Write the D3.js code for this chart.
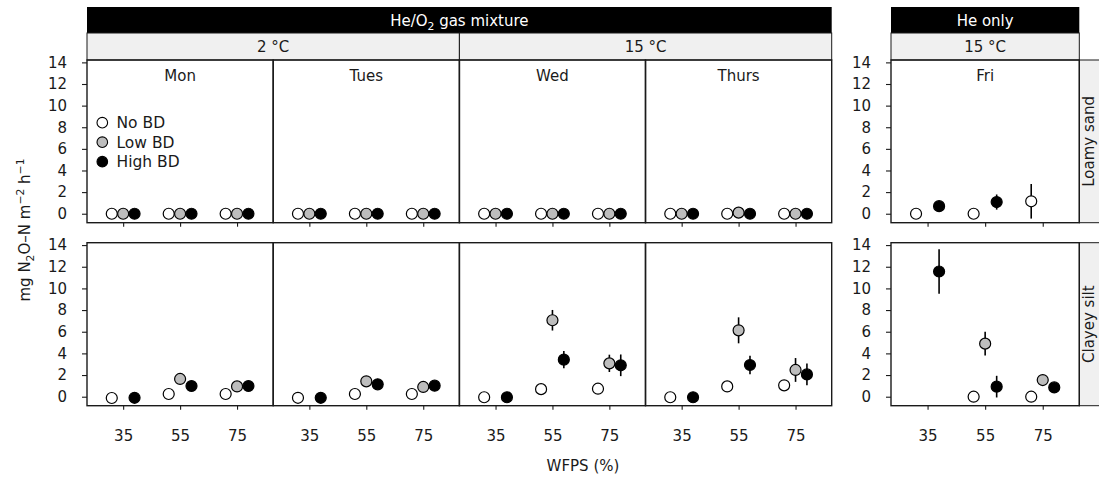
<!DOCTYPE html>
<html>
<head>
<meta charset="utf-8">
<script src="https://cdn.jsdelivr.net/npm/d3@7"></script>
<style>
  html, body { margin: 0; padding: 0; background: #fff; }
  svg { display: block; font-family: "DejaVu Sans", sans-serif; }
</style>
</head>
<body>
<svg id="chart" width="1099" height="479"></svg>
<script>
// ---------------- DATA ----------------
const wfps = [35, 55, 75];
const yTicks = [0, 2, 4, 6, 8, 10, 12, 14];
const treatments = ["No BD", "Low BD", "High BD"];
const days = ["Mon", "Tues", "Wed", "Thurs", "Fri"];
const soils = ["Loamy sand", "Clayey silt"];
const gasGroups = ["He/O2 gas mixture", "He only"];
const tempGroups = ["2 °C", "15 °C", "15 °C"];

// values: [day][wfps index]  (null = no observation)
const loamyNoBD   = [[0, 0, 0], [0, 0, 0], [0, 0, 0], [0, 0, 0], [0, 0, 1.15]];
const loamyLowBD  = [[0, 0, 0], [0, 0, 0], [0, 0, 0], [0, 0.1, 0], [null, null, null]];
const loamyHighBD = [[0, 0, 0], [0, 0, 0], [0, 0, 0], [0, 0, 0], [0.7, 1.08, null]];
const loamyNoBDse   = [[0, 0, 0], [0, 0, 0], [0, 0, 0], [0, 0, 0], [0.05, 0.05, 1.6]];
const loamyLowBDse  = [[0, 0, 0], [0, 0, 0], [0, 0, 0], [0, 0, 0], [null, null, null]];
const loamyHighBDse = [[0, 0, 0], [0, 0, 0], [0, 0, 0], [0, 0, 0], [0.2, 0.7, null]];

const clayNoBD   = [[-0.12, 0.25, 0.25], [-0.1, 0.25, 0.25], [-0.05, 0.7, 0.74], [-0.05, 0.95, 1.05], [null, 0, 0]];
const clayLowBD  = [[null, 1.64, 0.95], [null, 1.42, 0.9], [null, 7.06, 3.08], [null, 6.13, 2.47], [null, 4.9, 1.54]];
const clayHighBD = [[-0.1, 0.99, 0.99], [-0.1, 1.14, 1.02], [-0.05, 3.42, 2.9], [-0.05, 2.93, 2.06], [11.56, 0.93, 0.86]];
const clayNoBDse   = [[0.1, 0.1, 0.1], [0.1, 0.1, 0.1], [0.1, 0.15, 0.15], [0.1, 0.2, 0.2], [null, 0.05, 0.05]];
const clayLowBDse  = [[null, 0.3, 0.2], [null, 0.45, 0.2], [null, 0.95, 0.8], [null, 1.2, 1.1], [null, 1.1, 0.3]];
const clayHighBDse = [[0.1, 0.2, 0.2], [0.1, 0.2, 0.2], [0.1, 0.8, 1.0], [0.1, 0.85, 1.0], [2.05, 1.0, 0.2]];

const values = [[loamyNoBD, loamyLowBD, loamyHighBD], [clayNoBD, clayLowBD, clayHighBD]];
const errors = [[loamyNoBDse, loamyLowBDse, loamyHighBDse], [clayNoBDse, clayLowBDse, clayHighBDse]];

// ---------------- LAYOUT ----------------
const svg = d3.select("#chart");
const fills = ["#ffffff", "#bdbdbd", "#000000"];
const dodge = [-4, 0, 4];
const fontSize = 15;
const textCol = "#1a1a1a";

const panelX = [[87, 273.2], [273.2, 459.4], [459.4, 645.5], [645.5, 831.7], [891, 1079.3]];
const rowY = [[60, 222.7], [242.7, 405.7]];

const xDomain = [22.3, 87.7];
const yDomain = [-0.83, 14.22];

const g = svg.append("g");

function stripText(sel, x, y, txt, color, rotate) {
  const t = sel.append("text")
    .attr("text-anchor", "middle")
    .attr("font-size", fontSize)
    .attr("fill", color);
  if (rotate) t.attr("transform", `translate(${x},${y}) rotate(-90)`);
  else t.attr("x", x).attr("y", y);
  if (txt === "He/O2 gas mixture") {
    t.append("tspan").text("He/O");
    t.append("tspan").text("2").attr("font-size", fontSize * 0.72).attr("dy", 4);
    t.append("tspan").text(" gas mixture").attr("dy", -4);
  } else {
    t.text(txt);
  }
  return t;
}

// black gas strips
const gasSpans = [[87, 831.7], [891, 1079.3]];
gasSpans.forEach((s, i) => {
  g.append("rect").attr("x", s[0]).attr("y", 7).attr("width", s[1] - s[0]).attr("height", 26).attr("fill", "#000");
  stripText(g, (s[0] + s[1]) / 2, 25.5, gasGroups[i], "#fff");
});
// grey temperature strips
const tempSpans = [[87, 459.4], [459.4, 831.7], [891, 1079.3]];
tempSpans.forEach((s, i) => {
  g.append("rect").attr("x", s[0]).attr("y", 33).attr("width", s[1] - s[0]).attr("height", 27)
    .attr("fill", "#f0f0f0").attr("stroke", "#1a1a1a").attr("stroke-width", 1);
  stripText(g, (s[0] + s[1]) / 2, 52, tempGroups[i], textCol);
});
// soil strips on right
rowY.forEach((r, i) => {
  g.append("rect").attr("x", 1079.3).attr("y", r[0]).attr("width", 30).attr("height", r[1] - r[0])
    .attr("fill", "#f0f0f0").attr("stroke", "#1a1a1a").attr("stroke-width", 1);
  stripText(g, 1094, (r[0] + r[1]) / 2, soils[i], textCol, true);
});

// panels
rowY.forEach((ry, ri) => {
  const y = d3.scaleLinear().domain(yDomain).range([ry[1], ry[0]]);
  panelX.forEach((px, di) => {
    const x = d3.scaleLinear().domain(xDomain).range([px[0], px[1]]);
    const p = g.append("g");

    if (di === 0 || di === 4) {
      const ya = p.append("g").attr("transform", `translate(${px[0]},0)`)
        .call(d3.axisLeft(y).tickValues(yTicks).tickSize(5).tickPadding(15).tickFormat(d3.format("d")));
      ya.select(".domain").remove();
      ya.selectAll("line").attr("stroke", "#1a1a1a").attr("stroke-width", 1.1);
      ya.selectAll("text").attr("font-size", fontSize).attr("fill", textCol).attr("font-family", "DejaVu Sans");
    }
    const xa = p.append("g").attr("transform", `translate(0,${ry[1]})`)
      .call(d3.axisBottom(x).tickValues(wfps).tickSize(4).tickPadding(21));
    xa.select(".domain").remove();
    xa.selectAll("line").attr("stroke", "#1a1a1a").attr("stroke-width", 1.1);
    xa.selectAll("text").attr("font-size", fontSize).attr("fill", textCol).attr("font-family", "DejaVu Sans")
      .attr("opacity", ri === 1 ? 1 : 0);

    if (ri === 0) {
      p.append("text").attr("x", (px[0] + px[1]) / 2).attr("y", 80.7)
        .attr("text-anchor", "middle").attr("font-size", fontSize).attr("fill", textCol).text(days[di]);
    }

    treatments.forEach((t, ti) => {
      const vals = values[ri][ti][di];
      const ses = errors[ri][ti][di];
      wfps.forEach((w, wi) => {
        const v = vals[wi];
        if (v === null || v === undefined) return;
        const se = ses[wi] || 0;
        const cx = x(w + dodge[ti]);
        p.append("line").attr("x1", cx).attr("x2", cx)
          .attr("y1", y(v - se)).attr("y2", y(v + se))
          .attr("stroke", "#000").attr("stroke-width", 1.6);
      });
    });
    treatments.forEach((t, ti) => {
      const vals = values[ri][ti][di];
      wfps.forEach((w, wi) => {
        const v = vals[wi];
        if (v === null || v === undefined) return;
        p.append("circle").attr("cx", x(w + dodge[ti])).attr("cy", y(v)).attr("r", 5.5)
          .attr("fill", fills[ti]).attr("stroke", "#000").attr("stroke-width", 1.2);
      });
    });

    p.append("rect").attr("x", px[0]).attr("y", ry[0]).attr("width", px[1] - px[0]).attr("height", ry[1] - ry[0])
      .attr("fill", "none").attr("stroke", "#1a1a1a").attr("stroke-width", 1.4);
  });
});

// legend
const leg = g.append("g");
treatments.forEach((t, i) => {
  const ly = 122.7 + i * 19.5;
  leg.append("circle").attr("cx", 102.3).attr("cy", ly).attr("r", 5.3)
    .attr("fill", fills[i]).attr("stroke", "#000").attr("stroke-width", 1.1);
  leg.append("text").attr("x", 116.5).attr("y", ly + 5.5).attr("font-size", 15.5).attr("fill", textCol).text(t);
});

// axis titles
const ylSize = 15;
const yl = g.append("text").attr("transform", "translate(30,230) rotate(-90)")
  .attr("text-anchor", "middle").attr("font-size", ylSize).attr("fill", textCol);
yl.append("tspan").text("mg N");
yl.append("tspan").text("2").attr("font-size", ylSize * 0.72).attr("dy", 4);
yl.append("tspan").text("O–N m").attr("dy", -4);
yl.append("tspan").text("−2").attr("font-size", ylSize * 0.72).attr("dy", -6);
yl.append("tspan").text(" h").attr("dy", 6);
yl.append("tspan").text("−1").attr("font-size", ylSize * 0.72).attr("dy", -6);

g.append("text").attr("x", 583).attr("y", 470.7).attr("text-anchor", "middle")
  .attr("font-size", fontSize).attr("fill", textCol).text("WFPS (%)");
</script>
</body>
</html>
